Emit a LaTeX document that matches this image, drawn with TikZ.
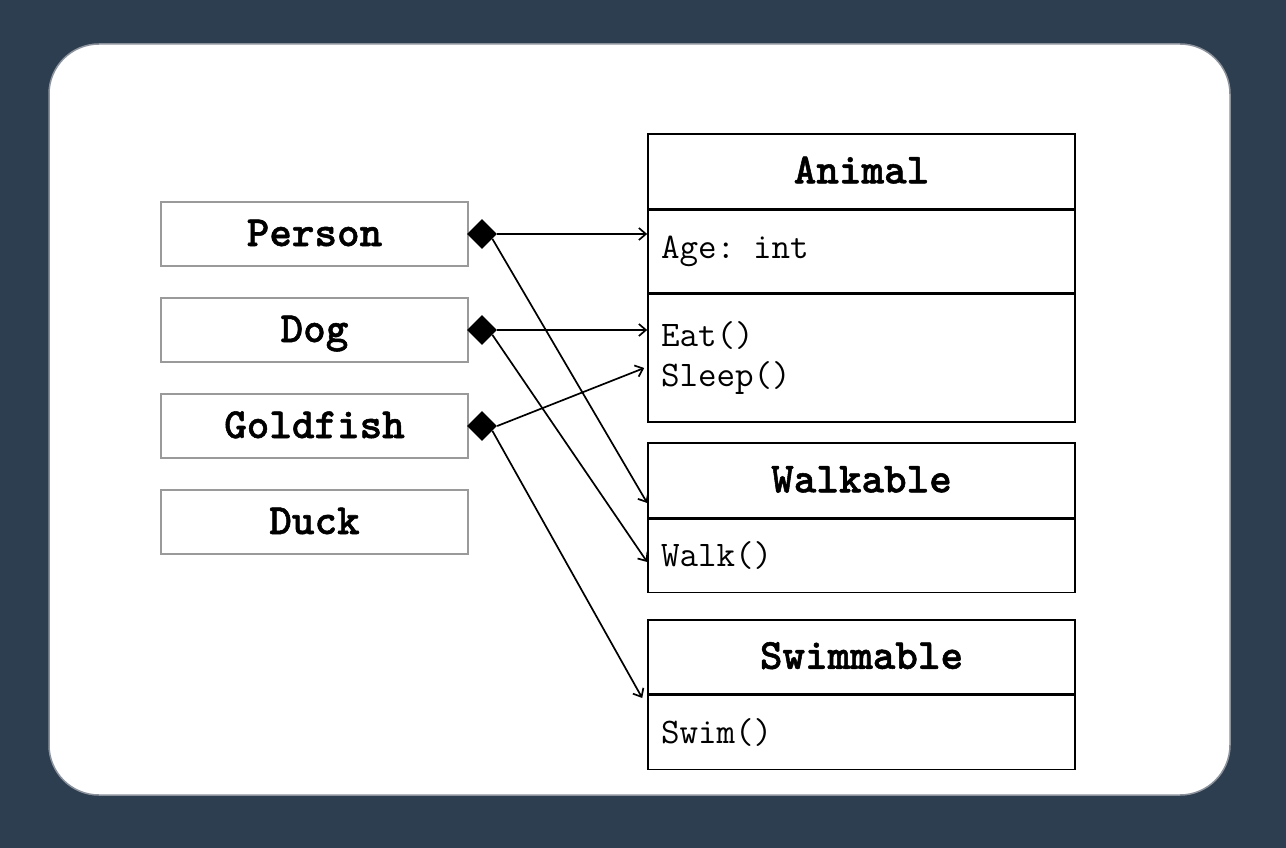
\documentclass[tikz,border=0pt]{standalone}
\usepackage{fontspec}
\usetikzlibrary{shapes.geometric,arrows.meta}
\newfontfamily\heavymono{lmmonolt10-bold.otf}[FakeBold=1.2]
\definecolor{backdrop}{HTML}{2D3E50}
\definecolor{panelrim}{HTML}{8C929C}
\definecolor{boxrim}{HTML}{9A9A9A}
\tikzset{
  x=1pt,y=-1pt,
  titlefont/.style={font=\heavymono\fontsize{43}{48}\selectfont,
    text height=24pt,text depth=0pt},
  bodyfont/.style={font=\ttfamily\fontsize{36}{40}\selectfont},
  classbox/.style={draw=boxrim,line width=1.8pt,minimum width=307pt,minimum height=64pt,
    inner sep=0pt,titlefont},
  umltitle/.style={draw=black,line width=1.6pt,minimum width=427pt,inner sep=0pt,
    anchor=north,titlefont},
  umlpart/.style={draw=black,line width=1.6pt,minimum width=427pt,text width=401pt,
    inner xsep=13pt,inner ysep=0pt,align=left,anchor=north,bodyfont},
  comp/.style={diamond,fill=black,minimum size=30pt,inner sep=0pt},
  link/.style={line width=1.7pt,-{Straight Barb[length=7pt,width=12pt,line width=1.7pt]}},
}
\begin{document}
\begin{tikzpicture}
% backdrop and rounded panel
\fill[backdrop] (0,0) rectangle (1286,848);
\useasboundingbox (0,0) rectangle (1286,848);
\draw[panelrim,fill=white,line width=1.5pt,rounded corners=50pt] (49,44) rectangle (1230,795);

% concrete classes
\node[classbox] (person)   at (314.5,234) {Person};
\node[classbox] (dog)      at (314.5,330) {Dog};
\node[classbox] (goldfish) at (314.5,426) {Goldfish};
\node[classbox] (duck)     at (314.5,522) {Duck};

% Animal
\node[umltitle,minimum height=75pt] (animal) at (861.5,133) {Animal};
\node[umlpart,minimum height=82pt] (animalattr) at (animal.south) {Age: int};
\node[umlpart,minimum height=128pt] (animalops) at (animalattr.south) {Eat()\\Sleep()};

% Walkable
\node[umltitle,minimum height=75pt] (walkable) at (861.5,442) {Walkable};
\node[umlpart,minimum height=73pt] (walkableops) at (walkable.south) {Walk()};

% Swimmable
\node[umltitle,minimum height=74pt] (swimmable) at (861.5,619) {Swimmable};
\node[umlpart,minimum height=74pt] (swimmableops) at (swimmable.south) {Swim()};

% composition diamonds
\node[comp] (pd) at (482,234) {};
\node[comp] (dd) at (482,330) {};
\node[comp] (gd) at (482,426) {};

% arrow targets on the class boxes
\coordinate (tAge)   at (animal.west |- 0,234);
\coordinate (tEat)   at (animal.west |- 0,330);
\coordinate (tSleep) at ([xshift=-3pt]animal.west |- 0,368);
\coordinate (tWalkA) at (animal.west |- 0,503);
\coordinate (tWalkB) at (animal.west |- 0,562);
\coordinate (tSwim)  at ([xshift=-5pt]animal.west |- 0,698);

\draw[link] (pd.east) -- (tAge);
\draw[link] (pd.-25) -- (tWalkA);
\draw[link] (dd.east) -- (tEat);
\draw[link] (dd.-25) -- (tWalkB);
\draw[link] (gd.east) -- (tSleep);
\draw[link] (gd.-25) -- (tSwim);
\end{tikzpicture}
\end{document}
